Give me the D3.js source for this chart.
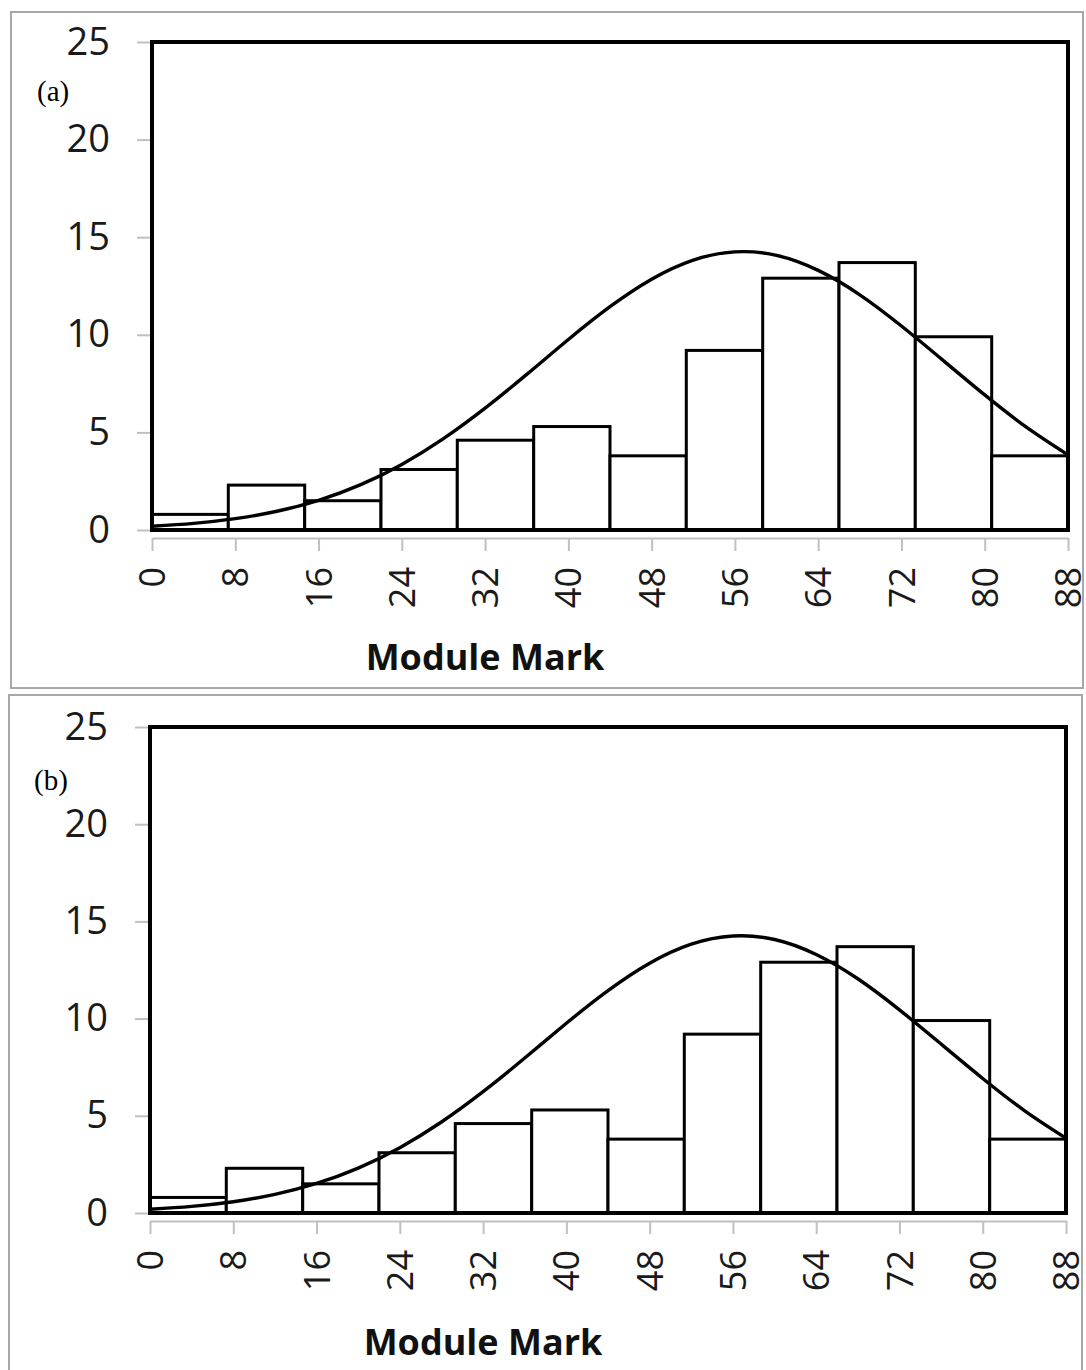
<!DOCTYPE html>
<html>
<head>
<meta charset="utf-8">
<script src="https://cdn.jsdelivr.net/npm/d3@7/dist/d3.min.js"></script>
<style>
    body { margin: 0; background: #fff; }
    svg { display: block; }
    .ytick text {
        font-family: "Open Sans", sans-serif;
        font-size: 38px;
        fill: #1a1a1a; }
    .xtick text {
        font-family: "Open Sans", sans-serif;
        font-size: 36px;
        fill: #1a1a1a; }
    .xtick path, .xtick line, .ytick line {
        stroke: #c0c0c0;
        stroke-width: 2px; }
    .bar {
        fill: #fff;
        stroke: #000;
        stroke-width: 3px; }
    .fit {
        fill: none;
        stroke: #000;
        stroke-width: 3.4px; }
    .frame {
        fill: none;
        stroke: #000;
        stroke-width: 4px; }
    .panel {
        fill: none;
        stroke: #a8a8a8;
        stroke-width: 2px; }
    .xtitle {
        font-family: "Open Sans", sans-serif;
        font-weight: bold;
        font-size: 36px;
        fill: #111;
        text-anchor: middle; }
    .tag {
        font-family: "Liberation Serif", serif;
        font-size: 29px;
        fill: #000; }
</style>
</head>
<body>
<div id="chart"></div>
<script>
// histogram bins (Module Mark) and counts
var binEdges = [0, 7.33, 14.67, 22, 29.33, 36.67, 44, 51.33, 58.67, 66, 73.33, 80.67, 88];
var counts = [0.8, 2.3, 1.5, 3.1, 4.6, 5.3, 3.8, 9.2, 12.9, 13.7, 9.9, 3.8];

// fitted curve
var curveX = [0, 4, 8, 12, 16, 20, 24, 28, 32, 36, 40, 44, 48, 52, 56, 60, 64, 68, 72, 76, 80, 84, 88];
var curveY = [0.19, 0.34, 0.58, 0.96, 1.52, 2.31, 3.36, 4.68, 6.24, 7.97, 9.76, 11.44, 12.85, 13.83, 14.25,
              14.07, 13.3, 12.05, 10.45, 8.69, 6.92, 5.27, 3.85];

var xTicks = [0, 8, 16, 24, 32, 40, 48, 56, 64, 72, 80, 88];
var yTicks = [0, 5, 10, 15, 20, 25];

var panels = [
    { tag: "(a)", left: 152, right: 1068, top: 42, bottom: 530, axisY: 538, titleX: 485, titleY: 670,
      tagX: 37, tagY: 101, box: [11, 12, 1072, 676] },
    { tag: "(b)", left: 150, right: 1066, top: 727, bottom: 1213, axisY: 1221, titleX: 483, titleY: 1355,
      tagX: 34, tagY: 790, box: [9, 695, 1073, 690] }
];

var svg = d3.select("#chart").append("svg")
    .attr("width", 1086)
    .attr("height", 1370);

panels.forEach(drawPanel);

function drawPanel(p) {
    var g = svg.append("g");

    g.append("rect")
        .attr("class", "panel")
        .attr("x", p.box[0]).attr("y", p.box[1])
        .attr("width", p.box[2]).attr("height", p.box[3]);

    var x = d3.scaleLinear().domain([0, 88]).range([p.left, p.right]);
    var y = d3.scaleLinear().domain([0, 25]).range([p.bottom, p.top]);

    // y axis
    var yAxis = d3.axisLeft(y).tickValues(yTicks).tickSize(15).tickPadding(27);
    g.append("g")
        .attr("class", "ytick")
        .attr("transform", "translate(" + p.left + ",0)")
        .call(yAxis)
        .call(function (a) { a.select(".domain").remove(); });

    // x axis
    var xAxis = d3.axisBottom(x).tickValues(xTicks).tickSize(13).tickSizeOuter(0);
    var xg = g.append("g")
        .attr("class", "xtick")
        .attr("transform", "translate(0," + p.axisY + ")")
        .call(xAxis);
    xg.selectAll("text")
        .attr("transform", "rotate(-90)")
        .attr("x", -29)
        .attr("y", 0)
        .attr("dy", "0.35em")
        .style("text-anchor", "end");

    // bars
    g.selectAll(".bar")
        .data(counts)
        .enter().append("rect")
        .attr("class", "bar")
        .attr("x", function (d, i) { return x(binEdges[i]); })
        .attr("y", function (d) { return y(d); })
        .attr("width", function (d, i) { return x(binEdges[i + 1]) - x(binEdges[i]); })
        .attr("height", function (d) { return y(0) - y(d); });

    // fitted curve
    var line = d3.line()
        .x(function (d) { return x(d[0]); })
        .y(function (d) { return y(d[1]); })
        .curve(d3.curveNatural);
    g.append("path")
        .attr("class", "fit")
        .attr("d", line(d3.zip(curveX, curveY)));

    // plot frame
    g.append("rect")
        .attr("class", "frame")
        .attr("x", p.left).attr("y", p.top)
        .attr("width", p.right - p.left).attr("height", p.bottom - p.top);

    g.append("text")
        .attr("class", "xtitle")
        .attr("x", p.titleX)
        .attr("y", p.titleY)
        .text("Module Mark");

    g.append("text")
        .attr("class", "tag")
        .attr("x", p.tagX)
        .attr("y", p.tagY)
        .text(p.tag);
}
</script>
</body>
</html>
